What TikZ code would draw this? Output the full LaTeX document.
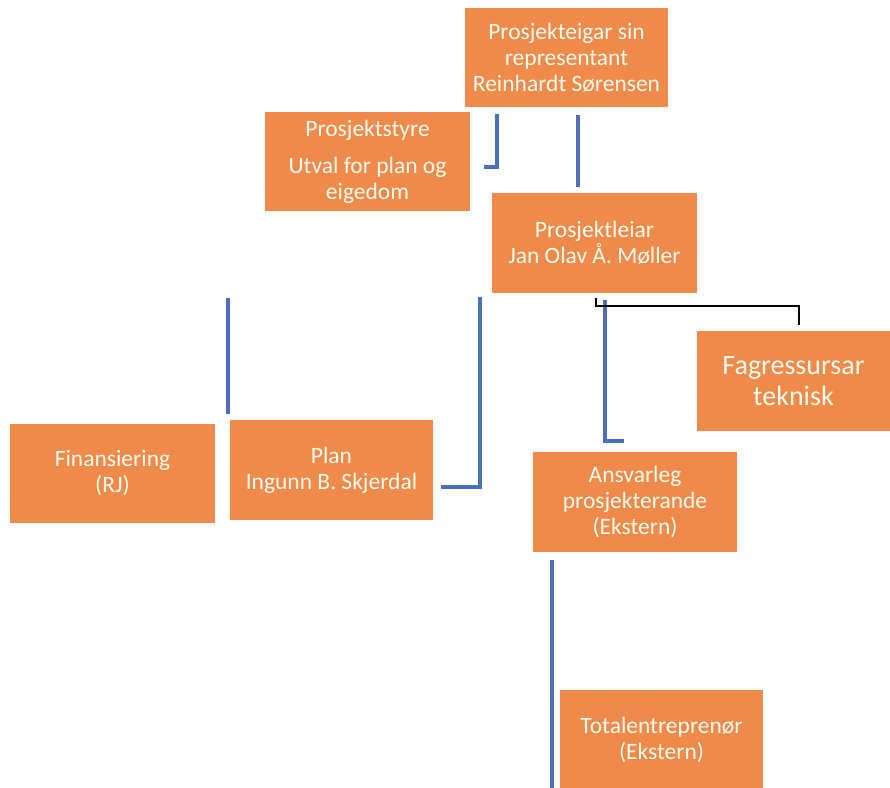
\documentclass[tikz,border=0pt]{standalone}
\usepackage{fontspec}
\setmainfont{Carlito}
\definecolor{boxorange}{HTML}{F08A4B}
\definecolor{linkblue}{HTML}{4A6DBE}
\definecolor{boxtext}{HTML}{FFFBEE}
\begin{document}
\begin{tikzpicture}[x=1pt,y=-1pt,
  orgbox/.style={rectangle, fill=boxorange, text=boxtext, align=center, inner sep=0pt,
    minimum width=204pt, minimum height=99pt, font=\fontsize{23.5}{26}\selectfont},
  bigbox/.style={orgbox, font=\fontsize{28}{31}\selectfont},
  bluelink/.style={draw=linkblue, line width=4pt},
  blacklink/.style={draw=black, line width=1.8pt}]
\useasboundingbox (0,0) rectangle (890,787);
\fill[white] (0,0) rectangle (890,787);
\clip (0,0) rectangle (890,787);

\node[orgbox, minimum width=203pt] (top) at (566.5,57.5) {Prosjekteigar sin\\representant\\Reinhardt Sørensen};
\node[orgbox, minimum width=205pt] (styre) at (367.5,161.5) {Prosjektstyre\\[11pt]Utval for plan og\\eigedom};
\node[orgbox, minimum width=205pt, minimum height=100pt] (leiar) at (594.5,243) {Prosjektleiar\\Jan Olav Å. Møller};
\node[bigbox, minimum width=193pt, minimum height=100pt] (fag) at (793.5,381) {Fagressursar\\teknisk};
\node[orgbox, minimum width=205pt] (fin) at (112.5,473.5) {Finansiering\\(RJ)};
\node[orgbox, minimum width=203pt, minimum height=100pt] (plan) at (331.5,470) {Plan\\Ingunn B. Skjerdal};
\node[orgbox, minimum width=204pt, minimum height=100pt] (ansv) at (635,502) {Ansvarleg\\prosjekterande\\(Ekstern)};
\node[orgbox, minimum width=203pt, minimum height=100pt] (total) at (661.5,740) {Totalentreprenør\\(Ekstern)};

% connectors
\coordinate (a1) at (497,114);
\coordinate (a2) at (497,167);
\coordinate (a3) at (484,167);
\draw[bluelink] (a1) -- (a2) -- (a3);

\coordinate (b1) at (578,115);
\coordinate (b2) at (578,187);
\draw[bluelink] (b1) -- (b2);

\coordinate (c1) at (228,298);
\coordinate (c2) at (228,414);
\draw[bluelink] (c1) -- (c2);

\coordinate (d1) at (480,297);
\coordinate (d2) at (480,487);
\coordinate (d3) at (441,487);
\draw[bluelink] (d1) -- (d2) -- (d3);

\coordinate (e1) at (605,300);
\coordinate (e2) at (605,441);
\coordinate (e3) at (624,441);
\draw[bluelink] (e1) -- (e2) -- (e3);

\coordinate (f1) at (596,298);
\coordinate (f2) at (596,306);
\coordinate (f3) at (799,306);
\coordinate (f4) at (799,325);
\draw[blacklink] (f1) -- (f2) -- (f3) -- (f4);

\coordinate (g1) at (552,560);
\coordinate (g2) at (552,790);
\draw[bluelink] (g1) -- (g2);
\end{tikzpicture}
\end{document}
